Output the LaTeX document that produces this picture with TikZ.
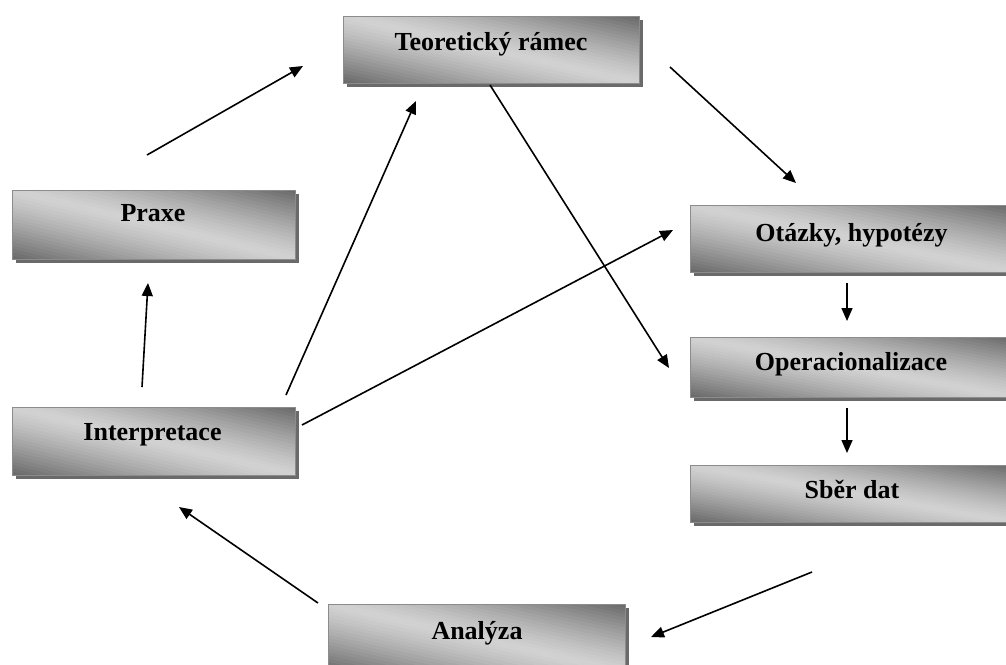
\documentclass[tikz,border=0pt]{standalone}
\usepackage{fontspec}
\setmainfont{Liberation Serif}
\usetikzlibrary{arrows.meta}
\definecolor{gdark}{HTML}{686868}
\definecolor{glight}{HTML}{D2D2D2}
\definecolor{gshadow}{HTML}{6A6A6A}
\definecolor{gborder}{HTML}{8C8C8C}
% \gbox{name}{x0}{y0}{x1}{y1}
\newcommand\gbox[5]{%
  \fill[gshadow] (#2+4,#3+4) rectangle (#4+4,#5+4);
  \begin{scope}
    \clip (#2,#3) rectangle (#4,#5);
    \foreach \k in {0,...,39}{
      \pgfmathsetmacro\da{-1+\k*0.05}
      \pgfmathsetmacro\db{\da+0.06}
      \pgfmathsetmacro\dm{abs(\da+0.025)}
      \pgfmathsetmacro\pc{100*(\dm)^1.25}
      \fill[gdark!\pc!glight] ({#2+(#4-#2)*\da},#3) -- ({#2+(#4-#2)*\db},#3)
        -- ({#2+(#4-#2)*(1+\db)},#5) -- ({#2+(#4-#2)*(1+\da)},#5) -- cycle;
    }
  \end{scope}
  \pgfmathsetmacro\cx{(#2+#4)/2}
  \pgfmathsetmacro\cy{(#3+#5)/2}
  \pgfmathsetmacro\bw{#4-#2}
  \pgfmathsetmacro\bh{#5-#3}
  \node[boxframe, minimum width=\bw pt, minimum height=\bh pt] (#1) at (\cx,\cy) {};
}
\begin{document}
\begin{tikzpicture}[x=1pt,y=-1pt,
  boxframe/.style={rectangle, draw=gborder, line width=0.9pt, inner sep=0pt, outer sep=0pt},
  lbl/.style={anchor=base, font=\fontsize{26}{30}\selectfont\bfseries, text=black, inner sep=0pt},
  arr/.style={line width=1.6pt, -{Triangle[length=13pt,width=11pt]}}]
\clip (0,0) rectangle (1006,664);
\useasboundingbox (0,0) rectangle (1006,664);
% boxes
\gbox{teor}{343}{16}{639}{83}
\gbox{praxe}{12}{190}{295}{259}
\gbox{otaz}{690}{205}{1012}{272}
\gbox{oper}{690}{337}{1012}{397}
\gbox{sber}{690}{465}{1012}{522}
\gbox{anal}{328}{604}{625}{672}
\gbox{interp}{12}{407}{295}{475}
% labels
\node[lbl] (tteor) at (491,50) {Teoretický rámec};
\node[lbl] (tpraxe) at (153,221.5) {Praxe};
\node[lbl] (totaz) at (851.5,241.5) {Otázky, hypotézy};
\node[lbl] (toper) at (851,370) {Operacionalizace};
\node[lbl] (tsber) at (852,498) {Sběr dat};
\node[lbl] (tanal) at (477,639) {Analýza};
\node[lbl] (tinterp) at (152.5,440) {Interpretace};
% arrow end points
\coordinate (p1) at (147,155);   \coordinate (t1) at (303,66);
\coordinate (t2) at (670,67);    \coordinate (o1) at (796,183);
\coordinate (t3) at (490,85);    \coordinate (op1) at (669,368);
\coordinate (o2) at (847,283);   \coordinate (op2) at (847,321);
\coordinate (op3) at (847,408);  \coordinate (s1) at (847,453);
\coordinate (s2) at (812,572);   \coordinate (a1) at (651,637);
\coordinate (a2) at (318,603);   \coordinate (i1) at (179,507);
\coordinate (i2) at (142,387);   \coordinate (p2) at (148,283);
\coordinate (i3) at (286,395);   \coordinate (t4) at (416,101);
\coordinate (i4) at (302,425);   \coordinate (o3) at (673,230);
% connectors
\draw[arr] (p1) -- (t1);
\draw[arr] (t2) -- (o1);
\draw[arr] (t3) -- (op1);
\draw[arr] (o2) -- (op2);
\draw[arr] (op3) -- (s1);
\draw[arr] (s2) -- (a1);
\draw[arr] (a2) -- (i1);
\draw[arr] (i2) -- (p2);
\draw[arr] (i3) -- (t4);
\draw[arr] (i4) -- (o3);
\end{tikzpicture}
\end{document}
